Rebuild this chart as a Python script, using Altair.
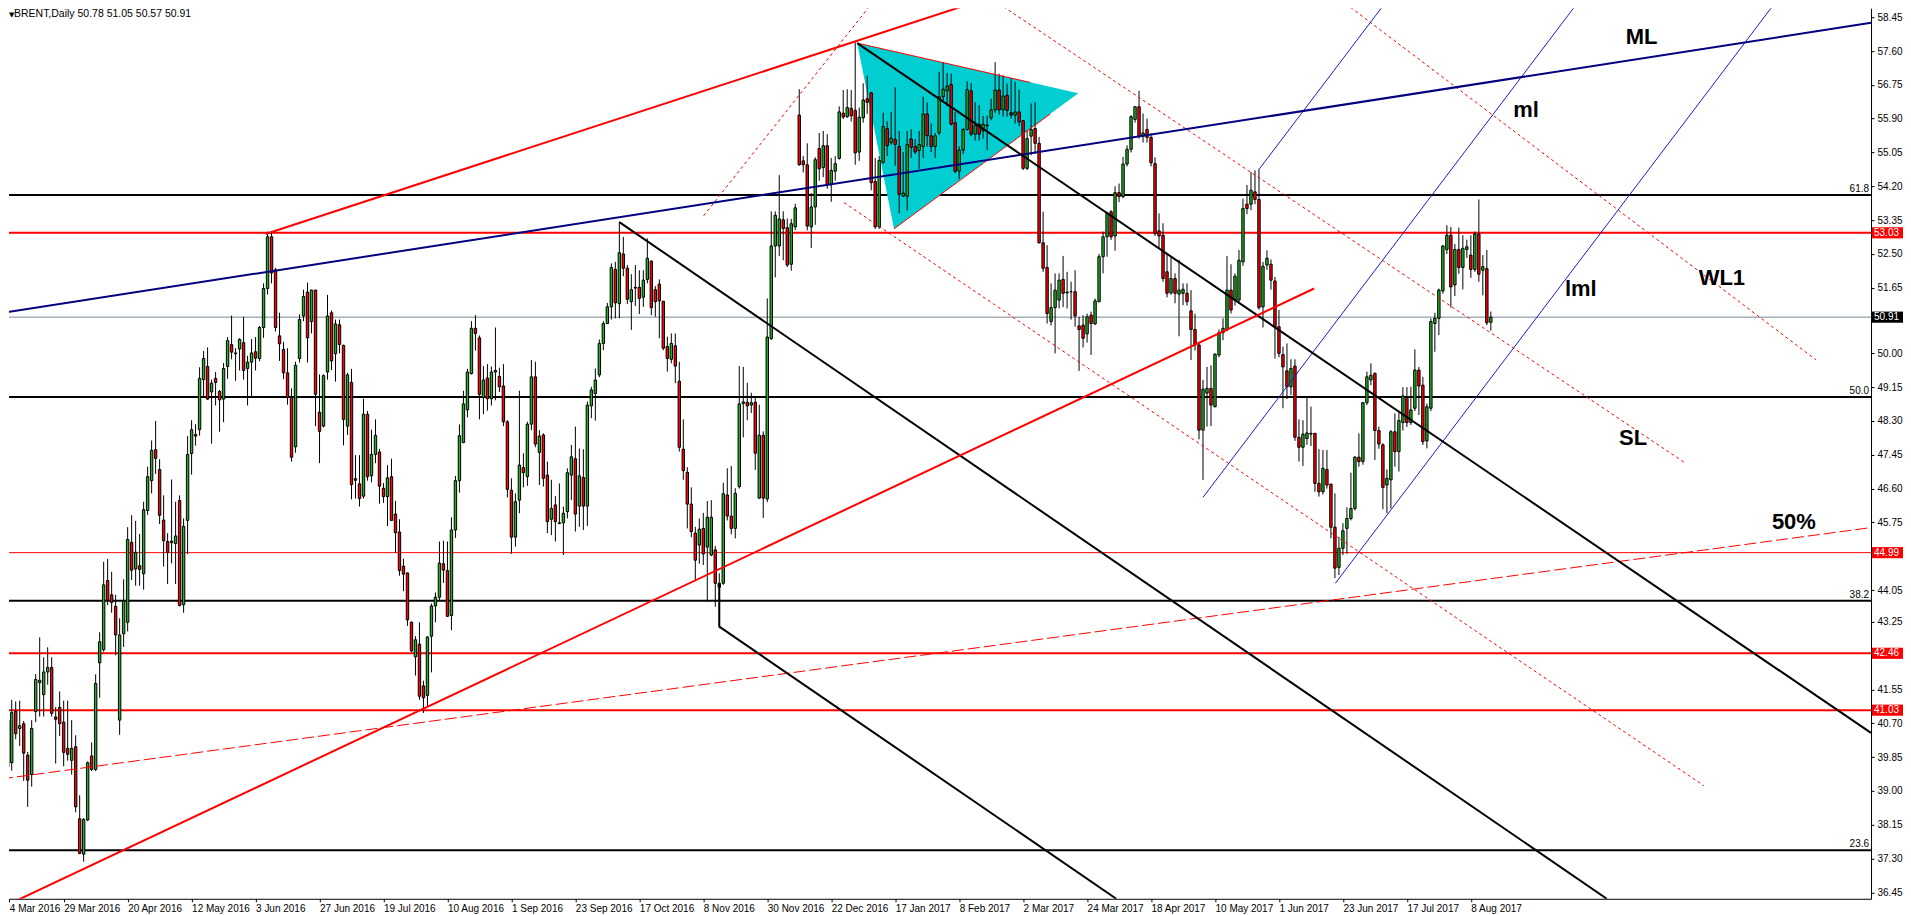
import altair as alt
import pandas as pd

FONT = "Liberation Sans"
GREEN = "#22b022"
RED = "#ff0000"

FIRST_BAR = 1
OPEN = [
    39.27, 40.78, 39.71, 41.00, 40.57, 40.69, 39.90, 39.41, 41.00, 41.72,
    41.42, 41.99, 42.10, 40.86, 41.10, 40.73, 40.07, 39.77, 40.11, 38.30,
    37.41, 38.27, 39.88, 39.54, 42.22, 42.55, 44.29, 43.93, 43.64, 40.78,
    42.95, 43.24, 45.25, 44.58, 44.66, 44.46, 46.05, 46.80, 47.58, 47.08,
    45.81, 45.27, 45.24, 45.22, 46.30, 43.68, 45.80, 47.48, 47.96, 48.08,
    49.34, 49.67, 49.03, 49.37, 49.04, 48.85, 49.67, 50.22, 50.01, 50.11,
    50.27, 49.62, 49.78, 50.04, 49.87, 50.65, 51.63, 52.93, 52.10, 50.44,
    50.10, 49.51, 48.89, 47.65, 49.87, 50.94, 51.54, 50.80, 51.59, 48.52,
    48.17, 49.53, 51.02, 49.99, 50.72, 50.20, 48.17, 49.27, 46.85, 46.72,
    46.41, 48.47, 46.92, 47.46, 47.52, 46.61, 46.40, 46.90, 45.96, 45.51,
    44.65, 44.48, 43.24, 42.37, 42.69, 41.64, 41.40, 42.89, 43.65, 43.87,
    44.71, 44.54, 43.41, 45.56, 46.80, 47.76, 48.58, 49.49, 50.63, 50.39,
    48.89, 49.38, 48.86, 49.53, 49.42, 49.18, 48.28, 46.56, 45.38, 46.31,
    47.13, 46.90, 48.22, 49.41, 47.51, 47.95, 46.94, 45.83, 46.19, 45.74,
    45.74, 46.02, 46.94, 47.35, 46.16, 46.88, 46.16, 48.68, 48.99, 49.46,
    50.25, 50.75, 51.17, 52.11, 51.25, 52.50, 52.14, 51.30, 51.64, 51.66,
    51.41, 51.86, 52.32, 51.60, 51.74, 51.31, 50.17, 49.85, 50.19, 49.30,
    47.59, 47.01, 46.21, 45.48, 45.18, 45.60, 45.13, 44.93, 45.06, 44.12,
    44.22, 46.44, 45.91, 45.60, 46.65, 48.74, 48.77, 48.70, 48.77, 46.36,
    47.94, 46.34, 50.37, 52.70, 52.70, 53.36, 53.16, 52.24, 53.18, 55.99,
    54.84, 54.74, 53.18, 53.68, 55.15, 54.67, 55.22, 54.24, 54.58, 54.90,
    56.04, 55.95, 56.16, 56.11, 55.06, 55.92, 56.40, 56.55, 54.32, 53.18,
    54.80, 55.65, 55.30, 55.38, 55.20, 53.95, 53.95, 55.39, 55.20, 55.10,
    55.20, 56.02, 55.47, 55.20, 55.54, 56.45, 56.60, 56.76, 55.80, 54.58,
    55.11, 55.63, 56.60, 55.51, 55.76, 55.59, 55.72, 55.92, 56.12, 56.62,
    56.12, 56.49, 56.05, 55.99, 56.07, 55.85, 54.65, 55.46, 55.65, 55.28,
    52.78, 52.16, 50.80, 51.15, 51.34, 51.86, 51.52, 51.55, 51.55, 50.69,
    50.71, 50.49, 50.96, 50.74, 51.30, 52.43, 52.93, 53.56, 52.95, 54.04,
    53.94, 54.76, 55.13, 55.88, 56.20, 55.46, 55.63, 55.43, 54.77, 53.08,
    52.97, 52.05, 51.52, 51.88, 51.49, 51.51, 51.51, 51.07, 50.60, 50.21,
    48.07, 49.00, 49.12, 48.66, 49.96, 50.52, 50.60, 51.59, 51.34, 51.34,
    52.30, 53.75, 53.75, 54.06, 53.87, 51.17, 52.22, 52.24, 51.82, 50.67,
    49.97, 49.56, 49.16, 49.68, 47.89, 47.64, 47.86, 47.99, 47.99, 46.73,
    46.52, 47.08, 46.71, 45.63, 44.62, 45.10, 45.60, 45.85, 46.10, 47.39,
    47.28, 48.76, 49.33, 49.50, 48.06, 47.70, 46.69, 46.82, 48.03, 47.53,
    48.26, 48.89, 48.26, 48.62, 49.58, 49.20, 47.80, 48.62, 50.75, 50.88,
    51.57, 52.61, 52.97, 51.72, 52.61, 52.16, 52.61, 52.47, 52.11, 53.00,
    52.09, 52.13, 50.78,
]
HIGH = [
    41.15, 41.60, 41.29, 41.25, 41.27, 40.76, 39.98, 40.78, 41.94, 42.86,
    42.36, 42.61, 42.36, 41.11, 41.50, 41.27, 41.27, 40.78, 40.40, 38.89,
    38.32, 39.74, 40.22, 41.93, 42.99, 44.76, 44.83, 44.51, 43.93, 43.34,
    44.32, 45.63, 45.93, 45.79, 45.46, 46.27, 47.15, 47.81, 48.30, 47.34,
    46.43, 45.48, 46.83, 46.27, 46.43, 45.85, 47.92, 48.32, 48.22, 49.65,
    50.06, 50.15, 49.34, 49.53, 49.08, 49.76, 50.41, 50.95, 50.13, 50.38,
    50.92, 49.94, 50.36, 50.41, 50.69, 51.76, 53.06, 53.07, 52.15, 51.02,
    50.29, 50.13, 49.12, 49.79, 50.98, 51.60, 51.78, 51.60, 51.60, 49.47,
    49.47, 51.47, 51.08, 50.85, 50.85, 50.22, 49.51, 49.61, 47.44, 47.44,
    48.86, 48.55, 48.08, 48.34, 47.60, 46.74, 47.19, 47.35, 46.29, 45.83,
    44.84, 44.49, 43.26, 42.89, 43.24, 41.77, 42.89, 43.71, 43.99, 45.27,
    45.29, 45.27, 45.88, 46.92, 48.21, 49.06, 49.61, 50.81, 50.96, 50.45,
    49.68, 49.73, 49.67, 50.65, 49.64, 49.73, 48.32, 46.86, 46.48, 49.06,
    47.49, 48.28, 49.83, 49.79, 48.07, 47.99, 47.28, 46.82, 46.41, 46.73,
    46.15, 47.11, 47.70, 48.16, 47.61, 47.59, 48.79, 49.16, 49.62, 50.35,
    50.81, 51.27, 52.26, 52.30, 53.31, 52.93, 52.22, 51.99, 52.22, 52.09,
    52.09, 52.89, 52.33, 51.69, 51.86, 51.32, 50.42, 50.50, 50.50, 49.79,
    48.34, 47.14, 46.63, 45.64, 45.85, 45.99, 46.29, 46.31, 45.16, 44.47,
    46.75, 47.11, 47.17, 46.61, 49.68, 49.66, 49.26, 49.01, 48.90, 48.71,
    48.04, 51.38, 53.57, 53.57, 54.48, 53.57, 53.39, 53.38, 53.76, 56.64,
    54.96, 55.28, 54.03, 54.93, 55.54, 55.59, 55.51, 54.91, 54.96, 56.21,
    56.62, 56.64, 56.62, 57.82, 56.18, 56.79, 56.98, 56.57, 54.91, 54.96,
    56.05, 55.83, 56.07, 56.69, 55.59, 55.06, 55.59, 55.63, 55.39, 55.59,
    56.45, 56.31, 55.78, 55.54, 57.08, 57.32, 57.05, 57.03, 56.07, 55.20,
    55.66, 56.84, 56.79, 56.31, 56.24, 55.97, 55.97, 56.40, 57.32, 57.03,
    56.99, 56.78, 56.91, 56.83, 56.63, 55.86, 55.61, 56.28, 56.32, 55.44,
    53.56, 52.72, 51.76, 52.01, 52.01, 52.45, 52.05, 51.80, 52.09, 50.92,
    50.96, 51.00, 51.05, 51.38, 52.50, 53.06, 53.56, 53.60, 54.20, 54.27,
    54.94, 55.23, 55.99, 56.21, 56.60, 56.03, 55.90, 55.53, 54.93, 53.52,
    53.27, 52.51, 52.45, 52.01, 52.35, 51.76, 51.76, 51.59, 51.00, 50.27,
    49.33, 49.66, 49.70, 50.00, 50.60, 50.88, 52.45, 52.24, 52.01, 52.60,
    53.89, 54.23, 54.56, 54.60, 54.62, 52.30, 52.59, 52.36, 51.92, 51.09,
    50.17, 50.25, 49.85, 49.85, 48.34, 48.32, 48.91, 48.66, 48.00, 47.59,
    47.57, 47.57, 46.73, 46.48, 45.39, 45.73, 46.13, 47.00, 47.42, 47.99,
    48.78, 49.54, 49.75, 49.51, 48.16, 47.74, 47.08, 48.07, 48.49, 48.56,
    49.15, 49.15, 49.16, 50.10, 49.66, 49.41, 48.74, 50.88, 51.02, 51.63,
    52.72, 53.22, 53.18, 52.75, 53.16, 52.97, 52.86, 52.97, 53.06, 53.87,
    52.47, 52.60, 51.05,
]
LOW = [
    38.97, 39.34, 39.51, 40.30, 40.13, 39.25, 38.60, 39.11, 40.73, 40.87,
    40.87, 41.67, 40.87, 39.69, 40.38, 39.62, 39.76, 39.41, 38.46, 37.41,
    37.22, 38.24, 39.50, 39.50, 41.34, 42.50, 43.67, 43.48, 42.41, 40.41,
    42.62, 43.01, 44.30, 44.16, 44.16, 44.06, 45.94, 46.48, 46.97, 45.71,
    44.64, 44.20, 44.72, 44.20, 43.64, 43.48, 44.95, 46.95, 47.68, 47.93,
    48.90, 48.83, 47.73, 48.69, 48.03, 48.27, 49.36, 49.85, 49.31, 49.57,
    49.34, 48.69, 48.90, 49.57, 49.80, 50.39, 51.48, 51.76, 50.55, 49.81,
    49.35, 48.71, 47.28, 47.50, 49.77, 50.81, 49.77, 50.50, 48.17, 47.24,
    48.14, 49.34, 49.58, 49.29, 50.00, 47.69, 47.95, 46.33, 46.35, 46.15,
    46.35, 46.80, 46.76, 47.24, 46.22, 46.24, 45.66, 45.79, 44.99, 44.41,
    44.02, 43.15, 42.49, 41.90, 41.29, 40.96, 41.12, 41.98, 43.24, 43.80,
    44.23, 43.37, 43.04, 45.36, 46.50, 47.74, 48.39, 49.47, 50.07, 48.34,
    48.47, 48.56, 48.69, 48.82, 49.03, 48.17, 46.38, 44.96, 45.14, 45.98,
    46.63, 46.67, 48.07, 47.64, 46.69, 46.65, 45.48, 45.43, 45.27, 45.71,
    44.93, 45.85, 46.31, 45.52, 45.64, 45.56, 45.66, 48.37, 48.31, 49.40,
    50.08, 50.74, 50.85, 50.88, 50.88, 51.94, 51.24, 50.59, 51.19, 50.99,
    51.17, 51.76, 50.96, 50.92, 50.38, 50.08, 49.54, 49.75, 49.25, 47.53,
    46.82, 45.60, 45.38, 44.30, 44.71, 44.68, 43.76, 44.90, 43.63, 43.09,
    44.18, 45.80, 45.45, 45.35, 46.60, 47.89, 48.32, 48.50, 47.07, 46.34,
    45.86, 46.26, 50.34, 51.91, 52.45, 52.34, 52.17, 52.08, 53.10, 54.72,
    54.55, 53.09, 52.65, 53.23, 54.34, 54.43, 54.14, 53.81, 54.34, 54.87,
    55.89, 55.92, 55.83, 54.74, 54.84, 55.80, 56.02, 54.10, 53.13, 53.13,
    54.77, 54.96, 55.25, 54.72, 53.52, 53.93, 53.59, 54.91, 55.01, 54.64,
    54.91, 55.20, 55.06, 54.91, 55.49, 56.30, 56.21, 55.73, 54.53, 54.38,
    55.01, 55.60, 55.46, 55.35, 55.35, 55.40, 55.11, 55.86, 56.05, 56.00,
    55.95, 55.95, 55.90, 55.78, 55.71, 54.61, 54.61, 54.98, 55.01, 52.76,
    52.05, 50.75, 50.70, 50.00, 51.13, 51.16, 51.13, 50.85, 50.67, 49.56,
    50.15, 50.27, 49.96, 50.71, 51.28, 52.01, 52.43, 52.85, 52.58, 53.80,
    53.90, 54.70, 55.05, 55.80, 55.40, 55.30, 55.30, 54.70, 52.95, 52.65,
    51.80, 51.41, 51.47, 51.26, 50.43, 51.21, 51.20, 49.83, 50.07, 47.84,
    46.82, 48.16, 48.17, 48.64, 49.90, 50.33, 50.55, 51.00, 51.20, 51.25,
    52.20, 53.50, 53.60, 53.75, 51.10, 50.65, 52.10, 51.60, 49.87, 49.90,
    48.62, 48.85, 48.95, 47.80, 47.28, 47.17, 47.70, 47.67, 46.52, 46.40,
    46.45, 46.60, 45.35, 44.35, 44.43, 44.93, 44.96, 45.80, 46.05, 47.15,
    47.20, 48.70, 49.20, 47.32, 47.60, 46.08, 45.98, 46.10, 47.15, 47.03,
    48.06, 48.15, 48.20, 48.55, 48.45, 47.70, 47.61, 48.55, 50.04, 50.46,
    51.50, 52.50, 51.15, 51.44, 52.00, 51.61, 52.40, 51.90, 52.05, 51.80,
    51.46, 50.71, 50.57,
]
CLOSE = [
    40.85, 39.60, 40.97, 40.44, 40.64, 39.95, 39.27, 40.57, 41.80, 41.78,
    41.99, 42.10, 40.95, 40.80, 40.69, 39.97, 39.92, 40.07, 38.60, 37.43,
    38.28, 39.71, 39.54, 41.70, 42.75, 44.18, 43.79, 43.74, 42.92, 42.92,
    43.78, 45.32, 44.55, 45.00, 44.57, 46.07, 46.90, 47.56, 47.36, 45.93,
    45.29, 45.00, 45.28, 45.41, 43.66, 45.65, 47.46, 48.08, 47.92, 49.37,
    49.87, 48.85, 49.25, 49.27, 48.83, 49.62, 50.32, 50.03, 49.99, 50.35,
    49.57, 49.78, 50.01, 49.88, 50.65, 51.63, 52.93, 52.02, 50.65, 50.24,
    49.51, 48.89, 47.39, 49.70, 50.85, 51.43, 50.39, 51.59, 48.97, 48.04,
    49.44, 50.94, 49.81, 50.74, 50.22, 48.34, 49.46, 46.70, 46.81, 46.35,
    48.47, 46.90, 47.46, 47.94, 46.66, 46.40, 46.87, 45.80, 45.49, 44.54,
    44.45, 43.30, 42.52, 42.80, 41.38, 41.34, 42.87, 43.65, 43.87, 44.73,
    44.55, 43.39, 45.56, 46.80, 47.93, 48.73, 49.53, 50.63, 50.50, 48.97,
    49.33, 48.86, 49.53, 49.57, 49.16, 48.28, 46.58, 45.38, 46.27, 47.19,
    47.00, 48.22, 49.41, 47.72, 47.92, 46.86, 45.77, 46.10, 45.77, 45.72,
    45.98, 47.00, 47.40, 45.96, 46.92, 46.16, 48.70, 49.08, 49.33, 50.25,
    50.75, 51.17, 52.16, 51.27, 52.53, 52.14, 51.36, 51.60, 51.66, 51.38,
    51.84, 52.39, 51.15, 51.30, 51.32, 50.13, 49.87, 50.25, 49.68, 47.64,
    47.05, 46.21, 45.52, 44.80, 45.58, 44.96, 45.88, 45.88, 44.22, 44.22,
    46.47, 45.91, 45.60, 46.48, 48.73, 48.78, 48.68, 48.76, 47.49, 47.94,
    46.36, 50.41, 52.70, 53.47, 53.38, 53.14, 52.22, 53.26, 53.66, 54.74,
    54.74, 53.20, 53.68, 54.87, 54.64, 55.22, 54.24, 54.60, 54.77, 56.07,
    55.94, 56.18, 55.97, 55.04, 55.94, 56.37, 56.31, 54.29, 53.18, 54.85,
    55.70, 55.22, 55.41, 55.25, 54.00, 54.03, 55.25, 55.18, 55.06, 55.25,
    56.02, 55.47, 55.20, 55.47, 56.45, 56.64, 56.72, 55.76, 54.58, 55.11,
    55.63, 56.63, 55.51, 55.73, 55.51, 55.76, 55.74, 56.12, 56.62, 56.12,
    56.47, 56.11, 55.99, 56.07, 55.82, 54.65, 55.40, 55.63, 55.28, 52.78,
    52.14, 51.00, 51.15, 51.59, 51.84, 51.51, 51.54, 51.55, 50.94, 50.60,
    50.38, 50.92, 50.75, 51.32, 52.43, 52.93, 53.52, 52.93, 54.04, 53.94,
    54.76, 55.13, 55.95, 56.20, 55.46, 55.54, 55.43, 54.79, 53.01, 52.95,
    51.88, 51.51, 51.88, 51.51, 51.59, 51.61, 51.30, 50.60, 50.21, 48.07,
    49.10, 49.12, 48.70, 49.98, 50.52, 50.63, 51.59, 51.09, 51.94, 52.34,
    53.64, 53.64, 54.10, 53.87, 51.15, 52.19, 52.39, 51.84, 50.67, 50.00,
    49.66, 49.16, 49.62, 47.89, 47.64, 47.97, 48.00, 47.97, 46.73, 46.52,
    47.11, 46.69, 45.63, 44.60, 45.10, 45.54, 45.85, 46.10, 47.39, 47.28,
    48.76, 49.41, 49.45, 48.06, 47.72, 46.63, 46.86, 48.03, 47.53, 48.31,
    48.93, 48.26, 48.58, 49.58, 49.18, 47.78, 48.66, 50.80, 50.88, 51.59,
    52.70, 52.97, 51.67, 52.61, 52.16, 52.64, 52.68, 52.11, 53.00, 51.99,
    52.18, 50.77, 50.91,
]

DATE_LABELS = ["4 Mar 2016", "29 Mar 2016", "20 Apr 2016", "12 May 2016", "3 Jun 2016",
               "27 Jun 2016", "19 Jul 2016", "10 Aug 2016", "1 Sep 2016", "23 Sep 2016",
               "17 Oct 2016", "8 Nov 2016", "30 Nov 2016", "22 Dec 2016", "17 Jan 2017",
               "8 Feb 2017", "2 Mar 2017", "24 Mar 2017", "18 Apr 2017", "10 May 2017",
               "1 Jun 2017", "23 Jun 2017", "17 Jul 2017", "8 Aug 2017"]
BARS_PER_LABEL = 16

PRICE_TICKS = [58.45, 57.60, 56.75, 55.90, 55.05, 54.20, 53.35, 52.50, 51.65, 50.00,
               49.15, 48.30, 47.45, 46.60, 45.75, 44.05, 43.25, 41.55, 40.70, 39.85,
               39.00, 38.15, 37.30, 36.45]

FIB_LEVELS = [53.98, 48.90, 43.78, 37.51]
FIB_NAMES = ["61.8", "50.0", "38.2", "23.6"]
RED_LEVELS_THICK = [53.03, 42.46, 41.03]
RED_LEVELS_THIN = [44.99]
LAST_PRICE = 50.91

# trend objects in (bar index, price)
RED_TRENDS = [(66.5, 53.00, 245.6, 58.88), (0.33, 36.06, 328.8, 51.63)]
NAVY_TRENDS = [(0.33, 51.01, 468.1, 58.31)]
BLACK_TRENDS = [(155.0, 53.30, 402.0, 36.29), (180.0, 44.22, 180.0, 43.13),
                (180.0, 43.13, 279.3, 36.29), (214.5, 57.80, 468.1, 40.46)]
RED_DOTTED = [(176.1, 53.46, 218.8, 58.88), (248.6, 58.88, 421.7, 47.24),
              (335.5, 58.88, 454.3, 49.84), (211.2, 53.79, 426.3, 39.13)]
RED_DASHED = [(0.33, 39.30, 468.1, 45.62)]
BLUE_FORK = [(314.9, 54.61, 347.1, 58.88), (301.0, 46.38, 395.2, 58.88),
             (334.1, 44.22, 444.6, 58.88)]
TRI_EDGES = [(214.5, 57.80, 257.8, 56.81), (223.7, 53.13, 262.8, 56.02)]
TRI_X = [214.5, 223.7, 269.8]
TRI_TOP = [57.80, 57.59, 56.54]
TRI_BOTTOM = [57.80, 53.13, 56.54]

TAGS = ["ML", "ml", "lml", "WL1", "SL", "50%"]
TAG_BAR = [410.7, 381.8, 395.5, 430.8, 408.6, 448.8]
TAG_PRICE = [57.96, 56.12, 51.62, 51.90, 47.86, 45.77]

TITLE = "BRENT,Daily  50.78 51.05 50.57 50.91"

# ---------------------------------------------------------------
X = alt.Scale(domain=[2.325, 468.1], nice=False, zero=False)
Y = alt.Scale(domain=[36.289, 58.676], nice=False, zero=False)

n = len(OPEN)
df = pd.DataFrame({"bar": list(range(FIRST_BAR, FIRST_BAR + n)), "open": OPEN,
                   "high": HIGH, "low": LOW, "close": CLOSE})
df["blo"] = df[["open", "close"]].min(axis=1)
df["bhi"] = df[["open", "close"]].max(axis=1)
df["up"] = [1 if c >= o else 0 for o, c in zip(df.open, df.close)]
df["bx1"] = df.bar - 0.3
df["bx2"] = df.bar + 0.3

xticks = [2.4] + [BARS_PER_LABEL * k for k in range(1, len(DATE_LABELS))]
label_js = "[" + ",".join("'%s'" % s for s in DATE_LABELS) + "][round(datum.value / %d)]" % BARS_PER_LABEL

XAX = alt.Axis(values=xticks, labelExpr=label_js, orient="bottom", grid=False, title=None,
               domainColor="black", domainWidth=1, tickColor="black", tickSize=3,
               labelAlign="left", labelBaseline="top", labelPadding=2, labelFont=FONT,
               labelFontSize=10, labelColor="black", labelFlush=False, labelOverlap=False)
YAX = alt.Axis(values=PRICE_TICKS, format=".2f", orient="right", grid=False, title=None,
               domainColor="black", domainWidth=1, tickColor="black", tickSize=3,
               labelPadding=3, labelFont=FONT, labelFontSize=10, labelColor="black",
               labelFlush=False, labelOverlap=False)


def xq(field):
    return alt.X(field, type="quantitative", scale=X, axis=XAX)


def yq(field):
    return alt.Y(field, type="quantitative", scale=Y, axis=YAX)


def hlines(levels, color, width):
    d = pd.DataFrame({"p": levels})
    return alt.Chart(d).mark_rule(color=color, strokeWidth=width, clip=True).encode(y=yq("p"))


def segs(rows, color, width, dash=None):
    d = pd.DataFrame(rows, columns=["x1", "y1", "x2", "y2"])
    kw = dict(color=color, strokeWidth=width, clip=True)
    if dash:
        kw["strokeDash"] = dash
    return alt.Chart(d).mark_rule(**kw).encode(x=xq("x1"), x2="x2:Q", y=yq("y1"), y2="y2:Q")


tri_df = pd.DataFrame({"x": TRI_X, "top": TRI_TOP, "bot": TRI_BOTTOM})
triangle = alt.Chart(tri_df).mark_area(color="#00ced1", opacity=1, clip=True).encode(
    x=xq("x"), y=yq("top"), y2="bot:Q")

base = alt.Chart(df)
wicks = base.mark_rule(color="black", strokeWidth=1, clip=True).encode(
    x=xq("bar"), y=yq("low"), y2="high:Q")
bodies_up = base.transform_filter("datum.up == 1").mark_bar(
    fill=GREEN, stroke="black", strokeWidth=1, clip=True).encode(
    x=xq("bx1"), x2="bx2:Q", y=yq("blo"), y2="bhi:Q")
bodies_dn = base.transform_filter("datum.up == 0").mark_bar(
    fill=RED, stroke="black", strokeWidth=1, clip=True).encode(
    x=xq("bx1"), x2="bx2:Q", y=yq("blo"), y2="bhi:Q")

tags_df = pd.DataFrame({"t": TAGS, "x": TAG_BAR, "y": TAG_PRICE})
tags = alt.Chart(tags_df).mark_text(font=FONT, fontWeight="bold", fontSize=22, color="black",
                                    align="center", baseline="middle").encode(
    x=xq("x"), y=yq("y"), text="t:N")

fib_df = pd.DataFrame({"p": FIB_LEVELS, "t": FIB_NAMES})
fib_txt = alt.Chart(fib_df).mark_text(font=FONT, fontSize=10, color="black", align="right",
                                      baseline="bottom", dy=-1).encode(
    x=alt.value(1861), y=yq("p"), text="t:N")


def price_boxes(levels, color):
    d = pd.DataFrame({"p": levels})
    d["lo"] = d.p - 0.14
    d["hi"] = d.p + 0.14
    rect = alt.Chart(d).mark_rect(color=color, clip=False).encode(
        x=alt.value(1864), x2=alt.value(1895), y=yq("lo"), y2="hi:Q")
    txt = alt.Chart(d).mark_text(font=FONT, fontSize=10, color="white", align="left",
                                 baseline="middle", clip=False).encode(
        x=alt.value(1866), y=yq("p"), text=alt.Text("p:Q", format=".2f"))
    return [rect, txt]


title_df = pd.DataFrame({"t": [TITLE]})
title = alt.Chart(title_df).mark_text(font=FONT, fontSize=10.5, color="black", align="left",
                                      baseline="top").encode(
    x=alt.value(5), y=alt.value(1), text="t:N")
arrow = alt.Chart(pd.DataFrame({"t": ["\u25BC"]})).mark_text(
    font="DejaVu Sans", fontSize=7, color="black", align="left", baseline="top").encode(
    x=alt.value(0), y=alt.value(3), text="t:N")

layers = [
    hlines(FIB_LEVELS, "black", 2),
    hlines(RED_LEVELS_THICK, RED, 2),
    hlines(RED_LEVELS_THIN, RED, 1),
    hlines([LAST_PRICE], "#778899", 1),
    triangle,
    wicks,
    bodies_up,
    bodies_dn,
    segs(TRI_EDGES, RED, 1),
    segs(RED_DASHED, RED, 1, [12, 4]),
    segs(RED_DOTTED, RED, 1, [3, 3]),
    segs(BLUE_FORK, "#1a1acd", 1),
    segs(NAVY_TRENDS, "#000080", 2),
    segs(BLACK_TRENDS, "black", 2),
    segs(RED_TRENDS, RED, 2),
    tags,
    fib_txt,
]
layers += price_boxes(RED_LEVELS_THICK + RED_LEVELS_THIN, RED)
layers += price_boxes([LAST_PRICE], "black")
layers += [title, arrow]

chart = alt.layer(*layers).properties(
    width=1863, height=891, padding=0, background="white").configure_view(stroke=None)

chart.save("out.html", embed_options={"renderer": "svg", "actions": False})
